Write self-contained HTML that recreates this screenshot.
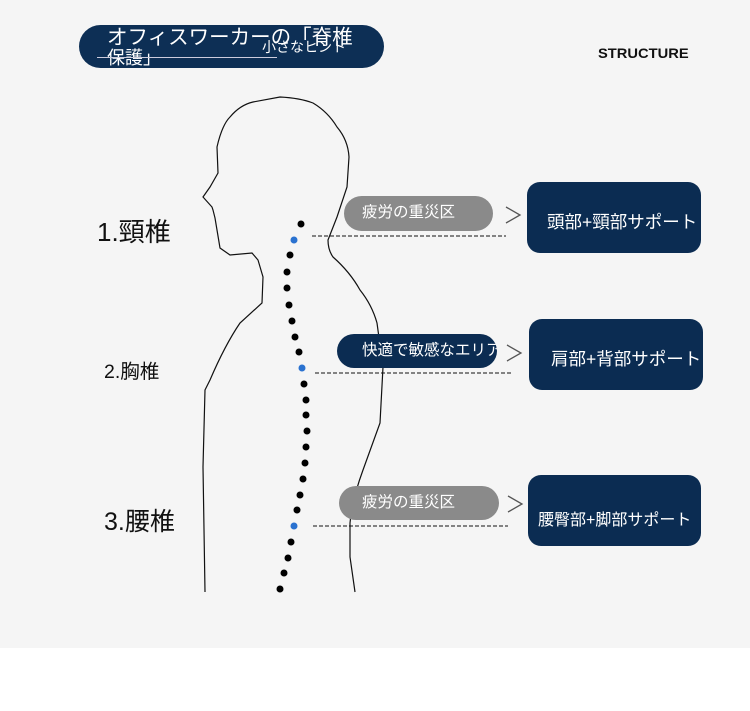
<!DOCTYPE html>
<html><head><meta charset="utf-8"><style>
body{margin:0;width:750px;height:711px;background:#fff;position:relative;overflow:hidden;font-family:"Liberation Sans","Noto Sans CJK JP",sans-serif}
.bg{position:absolute;left:0;top:0;width:750px;height:648px;background:#f5f5f5}
.a{position:absolute;white-space:nowrap}
.pill{position:absolute;border-radius:18px;color:#fff;font-size:15.5px;line-height:34px;padding-left:20px;box-sizing:border-box;overflow:hidden;white-space:nowrap}
.box{position:absolute;background:#0b2c52;border-radius:13px;color:#fff;font-size:17.5px;box-sizing:border-box;white-space:nowrap;overflow:hidden}
</style></head><body>
<div class="bg"></div>
<div class="a" style="left:79px;top:25px;width:305px;height:43px;border-radius:22px;background:#0d2f55;"></div>
<div class="a" style="left:107px;top:27px;color:#fff;font-size:20.5px;line-height:21px">オフィスワーカーの「脊椎</div>
<div class="a" style="left:107px;top:49px;color:#fff;font-size:18px;line-height:18px">保護」</div>
<div class="a" style="left:262px;top:37px;color:#fff;font-size:14px">小さなヒント</div>
<div class="a" style="left:97px;top:57px;width:180px;height:1px;background:#ccd"></div>
<div class="a" style="left:598px;top:45px;font-size:14px;font-weight:bold;color:#111;transform:scaleX(1.05);transform-origin:left">STRUCTURE</div>
<div class="a" style="left:97px;top:212px;font-size:26px;color:#111">1.頸椎</div>
<div class="a" style="left:104px;top:355px;font-size:19.5px;color:#111">2.胸椎</div>
<div class="a" style="left:104px;top:502px;font-size:25px;color:#111">3.腰椎</div>
<svg class="a" style="left:0;top:0" width="750" height="711">
<path d="M205,592 L203,467 L205,390 L210,380 Q225,345 240,323 L262,303 L263,277 L258,260 L252,253 L230,255 L220,248 L217,230 L215,218 L213,210 L212,207 L203,197 L210,187 L218,173 L217,147 Q222,125 230,117 Q240,105 253,102 L280,97 Q300,98 313,103 Q328,112 337,127 Q348,140 349,157 L347,187 L337,217 L328,240 Q328,250 333,257 Q350,272 360,290 Q372,305 377,323 L383,367 L380,423 L363,470 Q352,500 350,523 L350,557 L355,592" fill="none" stroke="#111" stroke-width="1.2"/>
<g stroke="#111" stroke-width="1" stroke-dasharray="4,2">
<line x1="312" y1="236" x2="506" y2="236"/><line x1="315" y1="373" x2="511" y2="373"/><line x1="313" y1="526" x2="508" y2="526"/></g>
<g fill="#000">
<circle cx="301" cy="224" r="3.5"/><circle cx="290" cy="255" r="3.5"/><circle cx="287" cy="272" r="3.5"/><circle cx="287" cy="288" r="3.5"/><circle cx="289" cy="305" r="3.5"/><circle cx="292" cy="321" r="3.5"/><circle cx="295" cy="337" r="3.5"/><circle cx="299" cy="352" r="3.5"/><circle cx="304" cy="384" r="3.5"/><circle cx="306" cy="400" r="3.5"/><circle cx="306" cy="415" r="3.5"/><circle cx="307" cy="431" r="3.5"/><circle cx="306" cy="447" r="3.5"/><circle cx="305" cy="463" r="3.5"/><circle cx="303" cy="479" r="3.5"/><circle cx="300" cy="495" r="3.5"/><circle cx="297" cy="510" r="3.5"/><circle cx="291" cy="542" r="3.5"/><circle cx="288" cy="558" r="3.5"/><circle cx="284" cy="573" r="3.5"/><circle cx="280" cy="589" r="3.5"/></g>
<g fill="#2a72d0"><circle cx="294" cy="240" r="3.5"/><circle cx="302" cy="368" r="3.5"/><circle cx="294" cy="526" r="3.5"/></g>
<g fill="none" stroke="#555" stroke-width="1.3">
<polyline points="506,207 520,215 506,223"/><polyline points="507,345 521,353 507,361"/><polyline points="508,496 522,504 508,512"/></g>
</svg>
<div class="pill" style="left:344px;top:196px;width:149px;height:35px;background:#8a8a8a;padding-left:18px">疲労の重災区</div>
<div class="pill" style="left:337px;top:334px;width:160px;height:34px;background:#0b2c52;padding-left:25px">快適で敏感なエリア</div>
<div class="pill" style="left:339px;top:486px;width:160px;height:34px;background:#8a8a8a;padding-left:23px">疲労の重災区</div>
<div class="box" style="left:527px;top:182px;width:174px;height:71px;padding:27px 0 0 20px">頭部+頸部サポート</div>
<div class="box" style="left:529px;top:319px;width:174px;height:71px;padding:27px 0 0 22px">肩部+背部サポート</div>
<div class="box" style="left:528px;top:475px;width:173px;height:71px;padding:31px 0 0 10px;font-size:16px">腰臀部+脚部サポート</div>
</body></html>
